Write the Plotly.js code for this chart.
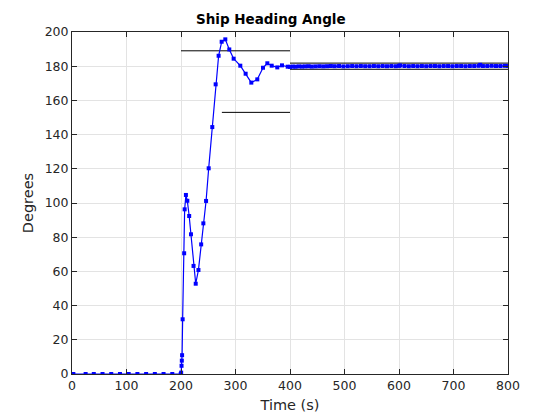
<!DOCTYPE html>
<html>
<head>
<meta charset="utf-8">
<script src="https://cdn.plot.ly/plotly-3.0.1.min.js"></script>
<style>html,body{margin:0;padding:0;background:#fff}#chart{width:560px;height:420px}</style>
</head>
<body>
<div id="chart"></div>
<script>
// Ship heading response (time in s, heading in degrees)
const timeS = [0, 1, 2.5, 25, 40, 56, 72, 88, 104, 120, 136, 152, 168, 184, 199.5,
  200.3, 201, 201.5, 202, 203, 205.8, 206.7, 209, 211.6, 215, 218.3, 223, 227, 232,
  237, 241, 246, 250.8, 257.4, 263.6, 269, 274.6, 281.3, 288.6, 296.6, 308.8, 318.6,
  329, 340, 350.5, 358.4, 366.4, 376.7, 385.3, 395.8,
  400, 405, 410, 416, 422, 428, 434, 440, 447, 454, 461, 468, 475, 482, 490, 498,
  506, 514, 522, 530, 538, 546, 554, 562, 570, 578, 586, 594, 600, 602, 610, 618,
  626, 634, 642, 650, 658, 666, 674, 682, 690, 698, 706, 714, 722, 730, 738, 746,
  749, 754, 762, 770, 778, 786, 794, 800];
const headingDeg = [0, 0, 0, 0, 0, 0, 0, 0, 0, 0, 0, 0, 0, 0, 0,
  0.8, 4.8, 7.8, 11, 32, 70.6, 96.3, 104.7, 101.3, 92.4, 81.7, 63.2, 52.8, 60.8,
  75.8, 88.1, 101.2, 120.3, 144.4, 169.4, 186.1, 194.3, 195.7, 189.8, 184.4, 180.3, 175.6,
  170.4, 172.3, 179.1, 181.7, 180.3, 179.3, 180.5, 179.7,
  179.6, 179.8, 179.7, 179.9, 179.8, 179.9, 180.0, 179.8, 179.9, 180.0, 179.9, 180.0, 180.1, 180.0, 180.1, 179.9,
  180.0, 180.1, 180.0, 180.1, 180.0, 180.0, 180.1, 180.0, 180.1, 180.0, 180.1, 180.0, 180.2, 180.4, 180.1, 180.0,
  180.1, 180.0, 180.1, 180.0, 180.1, 180.1, 180.0, 180.1, 180.1, 180.0, 180.1, 180.1, 180.0, 180.1, 180.1, 180.2,
  180.8, 180.1, 180.1, 180.2, 180.1, 180.1, 180.2, 180.1];

// Reference lines
const overshootT = [200, 400];
const overshootY = [189, 189];
const riseT = [275, 400];
const riseY = [153, 153];
const bandT = [400, 800];
const bandUpperY = [181.8, 181.8];
const bandLowerY = [178.2, 178.2];

const xTicks = [0, 100, 200, 300, 400, 500, 600, 700, 800];
const yTicks = [0, 20, 40, 60, 80, 100, 120, 140, 160, 180, 200];

const blackLine = {color: '#000000', width: 1};
const traces = [
  {x: overshootT, y: overshootY, mode: 'lines', line: blackLine, hoverinfo: 'skip'},
  {x: riseT, y: riseY, mode: 'lines', line: blackLine, hoverinfo: 'skip'},
  {x: bandT, y: bandUpperY, mode: 'lines', line: blackLine, hoverinfo: 'skip'},
  {x: bandT, y: bandLowerY, mode: 'lines', line: blackLine, hoverinfo: 'skip'},
  {x: timeS, y: headingDeg, mode: 'lines+markers',
   line: {color: '#0000ff', width: 1.2},
   marker: {color: '#0000ff', symbol: 'square', size: 4}}
];

const axisCommon = {
  showline: true, mirror: 'ticks', linecolor: '#262626', linewidth: 1,
  ticks: 'inside', ticklen: 5, tickcolor: '#262626', tickwidth: 1,
  showgrid: true, gridcolor: '#e3e3e3', gridwidth: 1, zeroline: false,
  tickfont: {family: 'DejaVu Sans', size: 12.5, color: '#262626'}
};

const layout = {
  width: 560, height: 420,
  margin: {l: 72, r: 52, t: 32, b: 46},
  paper_bgcolor: '#ffffff', plot_bgcolor: '#ffffff',
  showlegend: false,
  title: {text: '<b>Ship Heading Angle</b>', x: 0.456, xref: 'paper', xanchor: 'center',
          y: 0.955, yref: 'container', yanchor: 'middle',
          font: {family: 'DejaVu Sans', size: 13.5, color: '#000000'}},
  xaxis: Object.assign({}, axisCommon, {
    range: [0, 800], tickvals: xTicks, ticktext: xTicks.map(String),
    title: {text: 'Time (s)', standoff: 7, font: {family: 'DejaVu Sans', size: 14.5, color: '#262626'}}
  }),
  yaxis: Object.assign({}, axisCommon, {
    range: [0, 200], tickvals: yTicks, ticktext: yTicks.map(String),
    title: {text: 'Degrees', standoff: 7, font: {family: 'DejaVu Sans', size: 14.5, color: '#262626'}}
  })
};

Plotly.newPlot('chart', traces, layout, {staticPlot: true, displayModeBar: false});
</script>
</body>
</html>
